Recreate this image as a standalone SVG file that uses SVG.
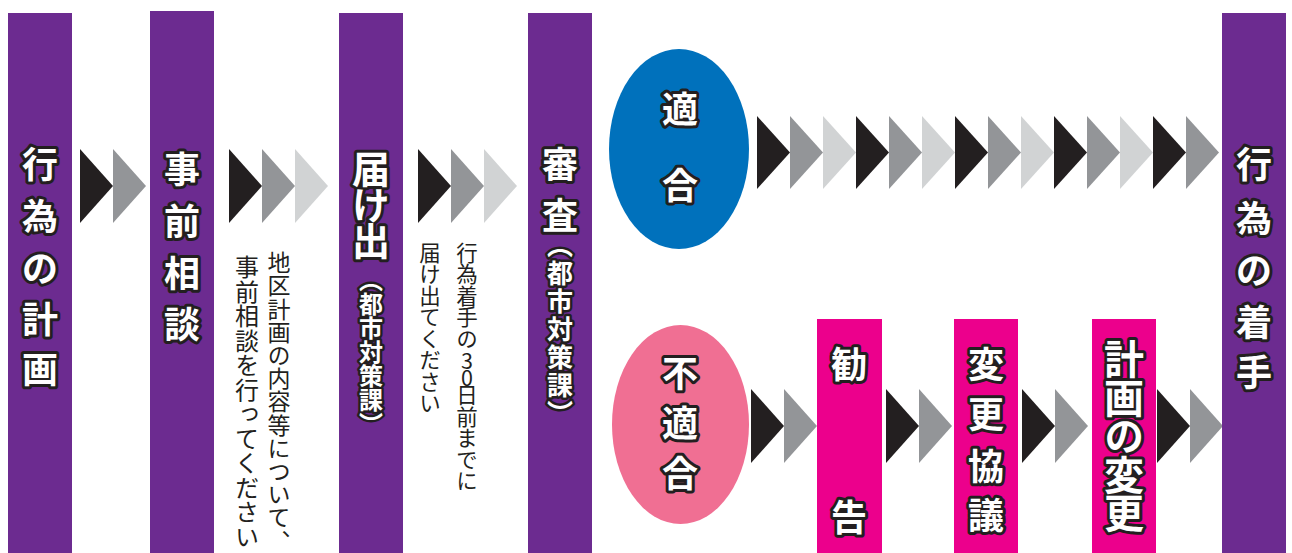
<svg xmlns="http://www.w3.org/2000/svg" xmlns:xlink="http://www.w3.org/1999/xlink" width="1292" height="553" viewBox="0 0 1292 553">
<style>
.col{fill:#6c2b90}
.box{fill:#ec008c}
.h{font-family:"Noto Sans CJK JP","Noto Sans",sans-serif;font-weight:700;fill:#fff;stroke:#231f20;stroke-width:6;paint-order:stroke;stroke-linejoin:round;text-anchor:middle;dominant-baseline:central;font-size:36px}
.hv{font-family:"Noto Sans CJK JP","Noto Sans",sans-serif;font-weight:700;fill:#fff;stroke:#231f20;stroke-width:5;paint-order:stroke;stroke-linejoin:round;writing-mode:vertical-rl}
.b{font-family:"Noto Sans CJK JP","Noto Sans",sans-serif;font-weight:400;fill:#231f20;writing-mode:vertical-rl}
.k{fill:#231f20}
.g{fill:#939598}
.l{fill:#d1d3d4}
</style>
<defs>
<polygon id="tri" points="0,0 0,74 33,37"/>
<polygon id="tri2" points="0,0 0,73 33,36.5"/>
</defs>

<g id="connectors">
<use xlink:href="#tri" class="k" x="80" y="149"/>
<use xlink:href="#tri" class="g" x="113" y="149"/>
<use xlink:href="#tri" class="k" x="229" y="149"/>
<use xlink:href="#tri" class="g" x="262" y="149"/>
<use xlink:href="#tri" class="l" x="295" y="149"/>
<use xlink:href="#tri" class="k" x="418" y="149"/>
<use xlink:href="#tri" class="g" x="451" y="149"/>
<use xlink:href="#tri" class="l" x="484" y="149"/>
<use xlink:href="#tri2" class="k" x="757" y="116"/>
<use xlink:href="#tri2" class="g" x="790" y="116"/>
<use xlink:href="#tri2" class="l" x="823" y="116"/>
<use xlink:href="#tri2" class="k" x="856" y="116"/>
<use xlink:href="#tri2" class="g" x="889" y="116"/>
<use xlink:href="#tri2" class="l" x="922" y="116"/>
<use xlink:href="#tri2" class="k" x="955" y="116"/>
<use xlink:href="#tri2" class="g" x="988" y="116"/>
<use xlink:href="#tri2" class="l" x="1021" y="116"/>
<use xlink:href="#tri2" class="k" x="1054" y="116"/>
<use xlink:href="#tri2" class="g" x="1087" y="116"/>
<use xlink:href="#tri2" class="l" x="1120" y="116"/>
<use xlink:href="#tri2" class="k" x="1153" y="116"/>
<use xlink:href="#tri2" class="g" x="1186" y="116"/>
<use xlink:href="#tri" class="k" x="751" y="389"/>
<use xlink:href="#tri" class="g" x="784" y="389"/>
<use xlink:href="#tri" class="k" x="886" y="389"/>
<use xlink:href="#tri" class="g" x="919" y="389"/>
<use xlink:href="#tri" class="k" x="1022" y="389"/>
<use xlink:href="#tri" class="g" x="1055" y="389"/>
<use xlink:href="#tri" class="k" x="1157" y="389"/>
<use xlink:href="#tri" class="g" x="1190" y="389"/>
</g>

<g id="plan">
<rect class="col" x="8" y="13" width="64" height="540"/>
<text class="h" x="40" y="162">行</text>
<text class="h" x="40" y="214">為</text>
<text class="h" x="40" y="266">の</text>
<text class="h" x="40" y="317">計</text>
<text class="h" x="40" y="367">画</text>
</g>

<g id="consult">
<rect class="col" x="150" y="11" width="64" height="542"/>
<text class="h" x="182" y="167">事</text>
<text class="h" x="182" y="219">前</text>
<text class="h" x="182" y="271">相</text>
<text class="h" x="182" y="322">談</text>
</g>

<g id="note1">
<text class="b" x="279" y="251" font-size="23" letter-spacing="0.2">地区計画の内容等について、</text>
<text class="b" x="247" y="255" font-size="24" letter-spacing="0.5">事前相談を行ってください</text>
</g>

<g id="notify">
<rect class="col" x="339" y="13" width="64" height="540"/>
<text class="hv" x="371" y="150" style="font-size:38px;stroke-width:6px;letter-spacing:-2px">届け出</text>
<text class="hv" x="371" y="268" style="font-size:24px">（都市対策課）</text>
</g>

<g id="note2">
<text class="b" x="467" y="242" font-size="21.5" style="text-orientation:upright">行為着手の<tspan style="letter-spacing:-4px">30</tspan>日前までに</text>
<text class="b" x="430" y="242" font-size="21.5">届け出てください</text>
</g>

<g id="review">
<rect class="col" x="528" y="13" width="64" height="540"/>
<text class="h" x="560" y="162">審</text>
<text class="h" x="560" y="213">査</text>
<text class="hv" x="560" y="232" style="font-size:26px;letter-spacing:2px">（都市対策課）</text>
</g>

<g id="conform">
<ellipse cx="679" cy="149" rx="70" ry="100" fill="#0071bc"/>
<text class="h" x="680" y="107">適</text>
<text class="h" x="680" y="183">合</text>
</g>

<g id="nonconform">
<ellipse cx="680.5" cy="424.5" rx="68.5" ry="99.5" fill="#f06f93"/>
<text class="h" x="680" y="371">不</text>
<text class="h" x="680" y="421">適</text>
<text class="h" x="680" y="471">合</text>
</g>

<g id="advice">
<rect class="box" x="817" y="319" width="65" height="234"/>
<text class="h" x="849" y="362">勧</text>
<text class="h" x="849" y="515">告</text>
</g>

<g id="negotiation">
<rect class="box" x="954" y="319" width="64" height="234"/>
<text class="h" x="986" y="362">変</text>
<text class="h" x="986" y="412">更</text>
<text class="h" x="986" y="464">協</text>
<text class="h" x="986" y="513">議</text>
</g>

<g id="planchange">
<rect class="box" x="1092" y="319" width="64" height="234"/>
<text class="hv" x="1124" y="339" style="font-size:40px;stroke-width:6px;letter-spacing:-1.5px">計画の変更</text>
</g>

<g id="start">
<rect class="col" x="1222" y="13" width="64" height="540"/>
<text class="h" x="1254" y="162">行</text>
<text class="h" x="1254" y="216">為</text>
<text class="h" x="1254" y="268">の</text>
<text class="h" x="1254" y="320">着</text>
<text class="h" x="1254" y="370">手</text>
</g>
</svg>
